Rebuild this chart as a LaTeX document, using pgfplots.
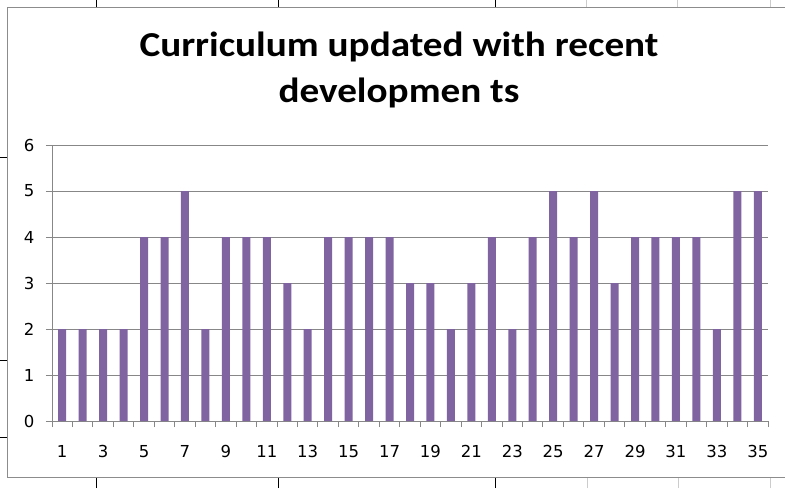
\documentclass[border=0pt]{standalone}
\usepackage{pgfplots}
\pgfplotsset{compat=1.18}
\usepackage{fontspec}
\setmainfont{DejaVu Sans}
\newfontfamily\titlefont{Carlito}[FakeStretch=1.12]
\definecolor{barpurple}{HTML}{8064A2}
\definecolor{gridgray}{HTML}{878787}
\definecolor{framegray}{HTML}{8C8C8C}
\begin{document}
\begin{tikzpicture}
\useasboundingbox (0pt,0pt) rectangle (785pt,488pt);
% spreadsheet lines behind the chart
\draw[black,line width=1pt] (96pt,480pt) -- (96pt,488pt) (278pt,480pt) -- (278pt,488pt) (495pt,480pt) -- (495pt,488pt);
\draw[gray!40,line width=1pt] (586pt,480pt) -- (586pt,488pt) (677pt,480pt) -- (677pt,488pt) (770pt,480pt) -- (770pt,488pt);
\draw[black,line width=1pt] (96pt,0pt) -- (96pt,11pt) (278pt,0pt) -- (278pt,11pt) (495pt,0pt) -- (495pt,11pt);
\draw[gray!40,line width=1pt] (587pt,0pt) -- (587pt,11pt) (678pt,0pt) -- (678pt,11pt) (770pt,0pt) -- (770pt,11pt);
\draw[black,line width=1pt] (0pt,330pt) -- (7pt,330pt) (0pt,128pt) -- (7pt,128pt) (0pt,51pt) -- (7pt,51pt);
% chart frame
\draw[framegray,line width=1pt] (800pt,480pt) -- (7pt,480pt) -- (7pt,11pt) -- (800pt,11pt);
\node[font=\titlefont\bfseries\fontsize{35}{48}\selectfont,anchor=base,inner sep=0pt] at (399pt,431pt) {Curriculum updated with recent};
\node[font=\titlefont\bfseries\fontsize{35}{48}\selectfont,anchor=base,inner sep=0pt] at (399pt,385pt) {developmen ts};
\begin{axis}[
  at={(52pt,67pt)}, anchor=south west,
  scale only axis, width=716pt, height=276pt,
  ybar, bar width=8pt,
  xmin=0.5, xmax=35.5, ymin=0, ymax=6,
  axis x line*=bottom, axis y line*=left,
  axis line style={gridgray, line width=1pt, -},
  xtick={1,3,...,35},
  minor xtick={0.5,1.5,...,35.5},
  major x tick style={draw=none},
  minor x tick style={gridgray, line width=1pt},
  minor tick length=6pt,
  ytick={0,1,...,6},
  major y tick style={gridgray, line width=1pt},
  major tick length=6pt,
  tick align=outside,
  ymajorgrids,
  major grid style={gridgray, line width=1pt},
  every tick label/.append style={font=\fontsize{16.5}{18}\selectfont},
  /pgf/number format/assume math mode=true,
  xticklabel style={yshift=-15pt},
  yticklabel style={xshift=-8pt},
  enlarge x limits=false,
  clip=false,
]
\addplot[fill=barpurple, draw=none] coordinates {
(1,2) (2,2) (3,2) (4,2) (5,4) (6,4) (7,5) (8,2) (9,4) (10,4)
(11,4) (12,3) (13,2) (14,4) (15,4) (16,4) (17,4) (18,3) (19,3) (20,2)
(21,3) (22,4) (23,2) (24,4) (25,5) (26,4) (27,5) (28,3) (29,4) (30,4)
(31,4) (32,4) (33,2) (34,5) (35,5)
};
\end{axis}
\end{tikzpicture}
\end{document}
